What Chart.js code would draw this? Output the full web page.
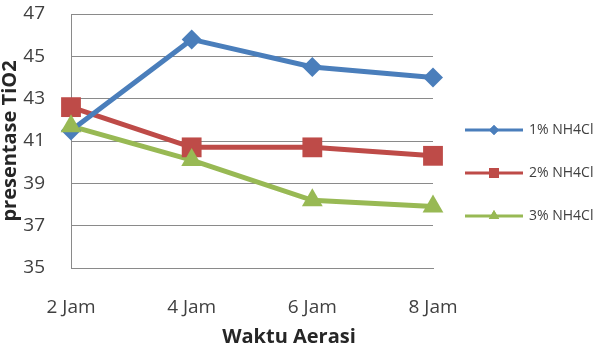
<!DOCTYPE html>
<html>
<head>
<meta charset="utf-8">
<script src="https://cdn.jsdelivr.net/npm/chart.js@4/dist/chart.umd.min.js"></script>
<style>
  html, body { margin: 0; padding: 0; background: #fff; }
  canvas { display: block; }
</style>
</head>
<body>
<canvas id="chart" width="608" height="364"></canvas>
<script>
// data
const categories = ["2 Jam", "4 Jam", "6 Jam", "8 Jam"];
const seriesNames = ["1% NH4Cl", "2% NH4Cl", "3% NH4Cl"];
const nh4cl1 = [41.5, 45.8, 44.5, 44.0];
const nh4cl2 = [42.6, 40.7, 40.7, 40.3];
const nh4cl3 = [41.7, 40.1, 38.2, 37.9];

const colors = ["#4A7EBB", "#BE4B48", "#98B954"];
const styles = ["rectRot", "rect", "triangle"];
const radii = [10, 14, 12];
const legendRadii = [5, 7, 6];

const FONT = "'Open Sans', sans-serif";

// legend with line + marker, plus the two axis titles
const sideLegend = {
    id: 'sideLegend',
    afterDraw(chart) {
        const ctx = chart.ctx;
        const ys = [130, 173, 216];
        ctx.save();
        seriesNames.forEach((name, i) => {
            const y = ys[i];
            ctx.strokeStyle = colors[i];
            ctx.lineWidth = 3;
            ctx.beginPath();
            ctx.moveTo(465, y);
            ctx.lineTo(523, y);
            ctx.stroke();
            ctx.fillStyle = colors[i];
            Chart.helpers.drawPoint(ctx, { pointStyle: styles[i], radius: legendRadii[i], borderWidth: 0 }, 494, y);
            ctx.fill();
            ctx.fillStyle = "#404040";
            ctx.font = "14px " + FONT;
            ctx.textBaseline = "middle";
            ctx.textAlign = "left";
            ctx.fillText(name, 529, y);
        });
        ctx.fillStyle = "#262626";
        ctx.font = "bold 20px " + FONT;
        ctx.textAlign = "center";
        ctx.textBaseline = "middle";
        ctx.fillText("Waktu Aerasi", 289, 337);
        ctx.translate(10, 141);
        ctx.rotate(-Math.PI / 2);
        ctx.fillText("presentase TiO2", 0, 0);
        ctx.restore();
    }
};

// lines underneath (blue line above the others), markers on top
const lineOrder = [4, 6, 5];
const markOrder = [3, 2, 1];
const datasets = [];
[nh4cl1, nh4cl2, nh4cl3].forEach((vals, i) => {
    datasets.push({
        label: seriesNames[i],
        data: vals,
        borderColor: colors[i],
        borderWidth: 5,
        pointRadius: 0,
        tension: 0,
        order: lineOrder[i]
    });
    datasets.push({
        label: seriesNames[i] + " marker",
        data: vals,
        showLine: false,
        backgroundColor: colors[i],
        borderColor: colors[i],
        pointStyle: styles[i],
        pointRadius: radii[i],
        pointHoverRadius: radii[i],
        pointBorderWidth: 0,
        order: markOrder[i]
    });
});

new Chart(document.getElementById('chart'), {
    type: 'line',
    data: { labels: categories, datasets },
    options: {
        responsive: false,
        animation: false,
        layout: { padding: { top: 14, right: 175, left: 0, bottom: 0 } },
        plugins: { legend: { display: false }, tooltip: { enabled: false } },
        scales: {
            x: {
                offset: false,
                grid: { display: false, drawTicks: false },
                border: { color: "#8a8a8a", width: 1 },
                ticks: { color: "#404040", font: { family: FONT, size: 19 }, padding: 28 },
                afterFit: s => { s.height = 96; s.paddingLeft = 0; s.paddingRight = 0; }
            },
            y: {
                min: 35, max: 47,
                ticks: { stepSize: 2, color: "#404040", font: { family: FONT, size: 19 }, padding: 26 },
                grid: { color: "#8a8a8a", lineWidth: 1, drawTicks: false },
                border: { color: "#8a8a8a", width: 1 },
                afterFit: s => { s.width = 71; s.paddingTop = 0; s.paddingBottom = 0; }
            }
        }
    },
    plugins: [sideLegend]
});
</script>
</body>
</html>
